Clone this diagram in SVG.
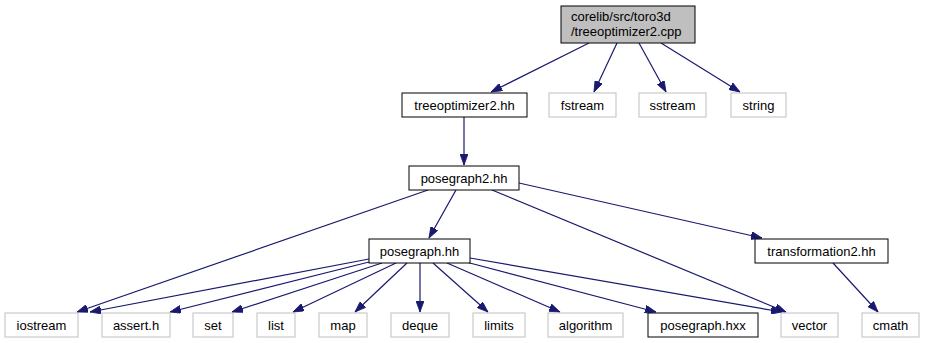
<svg xmlns="http://www.w3.org/2000/svg" width="925" height="343" viewBox="0 0 925 343">
  <style>
    .node rect { fill: #ffffff; stroke: #000000; stroke-width: 1; }
    .ext rect { stroke: #bfbfbf; }
    .root rect { fill: #bfbfbf; }
    text { font-family: "Liberation Sans", Arial, Helvetica, sans-serif; font-size: 13px; fill: #000000; }
    .mid { text-anchor: middle; }
    #edges path { fill: none; stroke: #191970; stroke-width: 1.2; marker-end: url(#arrow); }
  </style>
  <defs>
    <marker id="arrow" viewBox="0 0 11 8" refX="11" refY="4" markerWidth="11" markerHeight="8" markerUnits="userSpaceOnUse" orient="auto">
      <path d="M0,0 L11,4 L0,8 z" fill="#191970" stroke="#191970" stroke-width="0.8"/>
    </marker>
  </defs>
  <rect width="925" height="343" fill="#ffffff"/>

  <g id="edges">
    <path d="M589,43 L491,92"/>
    <path d="M617,43 L594,92"/>
    <path d="M639,43 L666,92"/>
    <path d="M661,43 L740,92"/>
    <path d="M464,117 L464,165"/>
    <path d="M456,190 L429,238"/>
    <path d="M428,190 L77,312"/>
    <path d="M492,190 L786,312"/>
    <path d="M519,183 L762,238"/>
    <path d="M833,263 L878,312"/>
    <path d="M369,259 L90,312"/>
    <path d="M369,262 L170,312"/>
    <path d="M382,263 L232,312"/>
    <path d="M396,263 L293,312"/>
    <path d="M407,263 L355,312"/>
    <path d="M420,263 L420,312"/>
    <path d="M433,263 L488,312"/>
    <path d="M447,263 L560,312"/>
    <path d="M466,262 L656,312"/>
    <path d="M470,258 L782,312"/>
  </g>

  <g id="root" class="node root">
    <rect x="561" y="6" width="134" height="37"/>
    <text x="571" y="21">corelib/src/toro3d</text>
    <text x="571" y="36">/treeoptimizer2.cpp</text>
  </g>
  <g id="treeoptimizer2_hh" class="node">
    <rect x="402" y="93" width="125" height="24"/>
    <text class="mid" x="464.5" y="109.5">treeoptimizer2.hh</text>
  </g>
  <g id="fstream" class="node ext">
    <rect x="549" y="93" width="67" height="24"/>
    <text class="mid" x="582.5" y="109.5">fstream</text>
  </g>
  <g id="sstream" class="node ext">
    <rect x="639" y="93" width="67" height="24"/>
    <text class="mid" x="672.5" y="109.5">sstream</text>
  </g>
  <g id="string" class="node ext">
    <rect x="731" y="93" width="55" height="24"/>
    <text class="mid" x="758.5" y="109.5">string</text>
  </g>
  <g id="posegraph2_hh" class="node">
    <rect x="409" y="166" width="110" height="24"/>
    <text class="mid" x="464" y="182.5">posegraph2.hh</text>
  </g>
  <g id="posegraph_hh" class="node">
    <rect x="369" y="239" width="101" height="24"/>
    <text class="mid" x="419.5" y="255.5">posegraph.hh</text>
  </g>
  <g id="transformation2_hh" class="node">
    <rect x="755" y="239" width="133" height="24"/>
    <text class="mid" x="821.5" y="255.5">transformation2.hh</text>
  </g>
  <g id="iostream" class="node ext">
    <rect x="5" y="313" width="73" height="24"/>
    <text class="mid" x="41.5" y="329.5">iostream</text>
  </g>
  <g id="assert_h" class="node ext">
    <rect x="102" y="313" width="68" height="24"/>
    <text class="mid" x="136" y="329.5">assert.h</text>
  </g>
  <g id="set" class="node ext">
    <rect x="193" y="313" width="40" height="24"/>
    <text class="mid" x="213" y="329.5">set</text>
  </g>
  <g id="list" class="node ext">
    <rect x="257" y="313" width="38" height="24"/>
    <text class="mid" x="276" y="329.5">list</text>
  </g>
  <g id="map" class="node ext">
    <rect x="319" y="313" width="48" height="24"/>
    <text class="mid" x="343" y="329.5">map</text>
  </g>
  <g id="deque" class="node ext">
    <rect x="391" y="313" width="58" height="24"/>
    <text class="mid" x="420" y="329.5">deque</text>
  </g>
  <g id="limits" class="node ext">
    <rect x="473" y="313" width="52" height="24"/>
    <text class="mid" x="499" y="329.5">limits</text>
  </g>
  <g id="algorithm" class="node ext">
    <rect x="548" y="313" width="75" height="24"/>
    <text class="mid" x="585.5" y="329.5">algorithm</text>
  </g>
  <g id="posegraph_hxx" class="node">
    <rect x="648" y="313" width="110" height="24"/>
    <text class="mid" x="703" y="329.5">posegraph.hxx</text>
  </g>
  <g id="vector" class="node ext">
    <rect x="781" y="313" width="57" height="24"/>
    <text class="mid" x="809.5" y="329.5">vector</text>
  </g>
  <g id="cmath" class="node ext">
    <rect x="862" y="313" width="57" height="24"/>
    <text class="mid" x="890.5" y="329.5">cmath</text>
  </g>
</svg>
